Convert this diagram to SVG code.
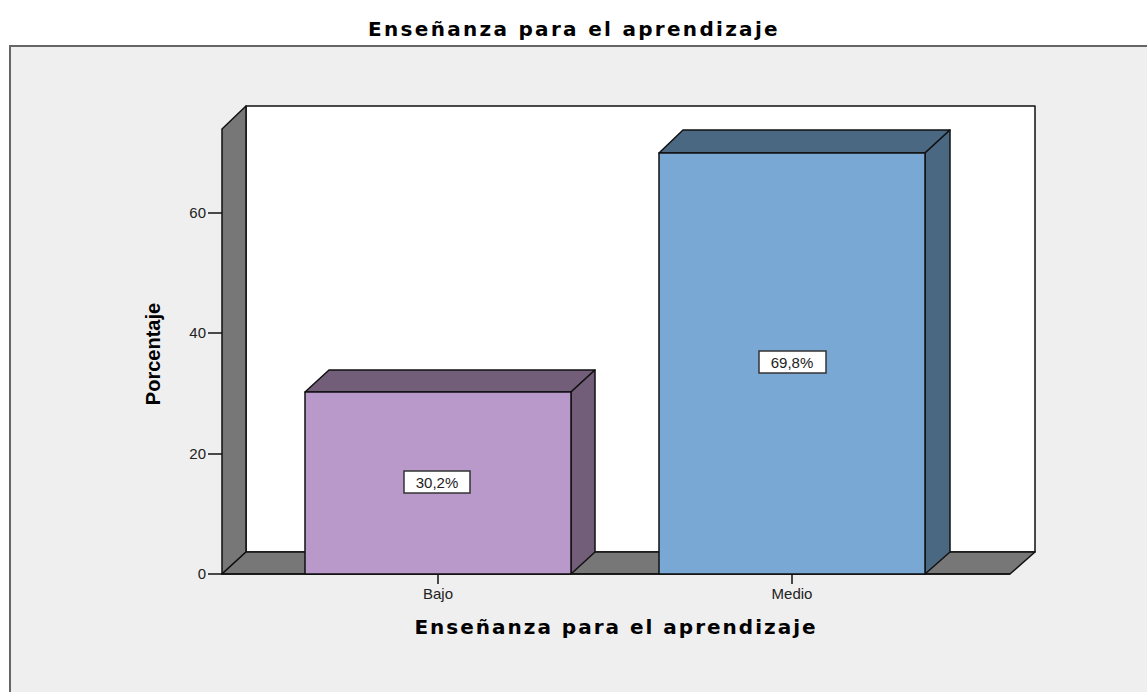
<svg xmlns="http://www.w3.org/2000/svg" width="1147" height="692" viewBox="0 0 1147 692">
<style>
.t{font-family:"DejaVu Sans",Verdana,sans-serif;font-weight:bold;fill:#000;font-size:20px}
.s{font-family:"Liberation Sans",Arial,sans-serif;font-size:15px;fill:#222}
.ln{stroke:#111;stroke-width:1.5;stroke-linejoin:round}
.wall{fill:#777777}
.tk{stroke:#111;stroke-width:1.5}
</style>
<rect width="1147" height="692" fill="#ffffff"/>
<rect x="10" y="46" width="1150" height="660" fill="#efefef" stroke="#666" stroke-width="2"/>
<text class="t" x="574" y="36" text-anchor="middle" letter-spacing="2.3">Enseñanza para el aprendizaje</text>
<g id="walls">
<rect x="246" y="106" width="789" height="446" fill="#ffffff" class="ln"/>
<polygon class="wall ln" points="222,129 246,106 246,552 222,574"/>
<polygon class="wall ln" points="222,574 246,552 1035,552 1010,574"/>
</g>
<g id="axis">
<line class="tk" x1="208" y1="574" x2="222" y2="574"/>
<line class="tk" x1="208" y1="454" x2="222" y2="454"/>
<line class="tk" x1="208" y1="333" x2="222" y2="333"/>
<line class="tk" x1="208" y1="213" x2="222" y2="213"/>
<text class="s" x="206" y="579" text-anchor="end">0</text>
<text class="s" x="206" y="459" text-anchor="end">20</text>
<text class="s" x="206" y="338" text-anchor="end">40</text>
<text class="s" x="206" y="218" text-anchor="end">60</text>
<line class="tk" x1="222" y1="574" x2="1010" y2="574"/>
<line class="tk" x1="438" y1="574" x2="438" y2="584"/>
<line class="tk" x1="792" y1="574" x2="792" y2="584"/>
<text class="s" x="438" y="599" text-anchor="middle">Bajo</text>
<text class="s" x="792" y="599" text-anchor="middle">Medio</text>
<text class="t" x="616" y="634" text-anchor="middle" letter-spacing="2">Enseñanza para el aprendizaje</text>
<text transform="translate(160,354) rotate(-90)" text-anchor="middle" style="font-family:'Liberation Sans',Arial,sans-serif;font-weight:bold;font-size:20px;fill:#000">Porcentaje</text>
</g>
<g id="bar-bajo">
<polygon class="ln" fill="#735e7a" points="305,392 329,370 595,370 571,392"/>
<polygon class="ln" fill="#735e7a" points="571,392 595,370 595,552 571,574"/>
<rect class="ln" x="305" y="392" width="266" height="182" fill="#b899c9"/>
<rect x="404" y="471" width="66" height="22" fill="#ffffff" stroke="#333" stroke-width="1.5"/>
<text class="s" x="437" y="488" text-anchor="middle">30,2%</text>
</g>
<g id="bar-medio">
<polygon class="ln" fill="#4a6882" points="659,153 683,130 950,130 925,153"/>
<polygon class="ln" fill="#4a6882" points="925,153 950,130 950,552 925,574"/>
<rect class="ln" x="659" y="153" width="266" height="421" fill="#79a8d5"/>
<rect x="759" y="351" width="67" height="22" fill="#ffffff" stroke="#333" stroke-width="1.5"/>
<text class="s" x="792" y="368" text-anchor="middle">69,8%</text>
</g>
</svg>
